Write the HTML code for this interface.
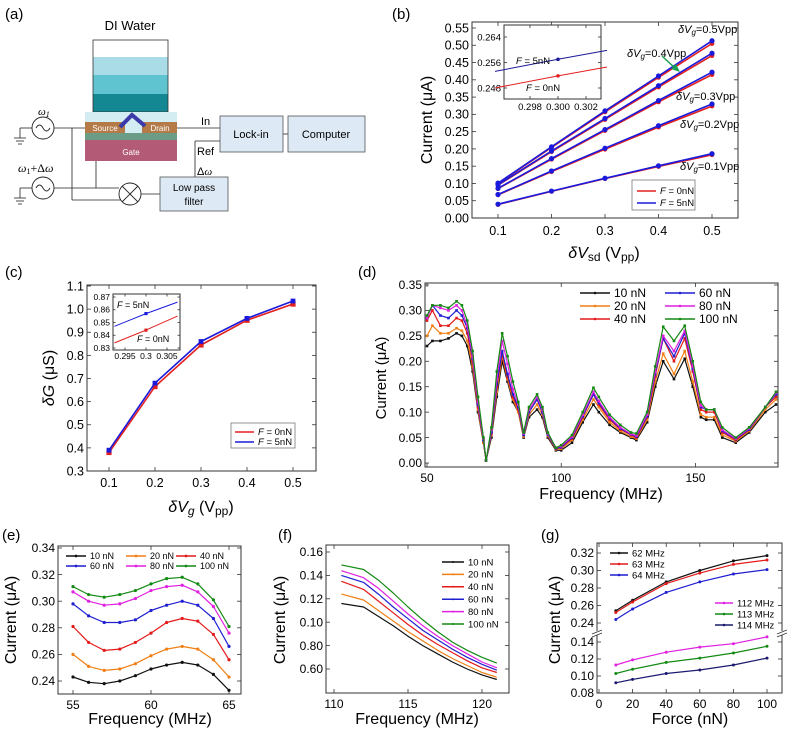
<!DOCTYPE html>
<html><head><meta charset="utf-8">
<style>
html,body{margin:0;padding:0;background:#fff;}
svg{display:block;font-family:"Liberation Sans",Arial,sans-serif;}
</style></head>
<body>
<svg id="fig" width="787" height="729" viewBox="0 0 787 729" xmlns="http://www.w3.org/2000/svg">
<g>
<text x="5" y="19" font-size="15">(a)</text>
<text x="130" y="30" font-size="13" text-anchor="middle">DI Water</text>
<g>
<rect x="93" y="40" width="75" height="17" fill="#ffffff"/>
<rect x="93" y="57" width="75" height="18" fill="#a9dce6"/>
<rect x="93" y="75" width="75" height="19" fill="#5fc3d0"/>
<rect x="93" y="94" width="75" height="18" fill="#138893"/>
<rect x="93" y="40" width="75" height="72" fill="none" stroke="#333" stroke-width="0.8"/>
</g>
<g>
<rect x="85" y="112" width="92" height="10" fill="#d4edf2"/>
<rect x="85" y="122" width="92" height="11" fill="#d4edf2"/>
<rect x="85" y="122" width="40" height="11" fill="#b47a48"/>
<rect x="142" y="122" width="35" height="11" fill="#b47a48"/>
<text x="105" y="131" font-size="8" fill="#fff" text-anchor="middle">Source</text>
<text x="160" y="131" font-size="8" fill="#fff" text-anchor="middle">Drain</text>
<rect x="85" y="133" width="92" height="7" fill="#6a9c86"/>
<rect x="85" y="140" width="92" height="21" fill="#b25a76"/>
<text x="131" y="155" font-size="8" fill="#fff" text-anchor="middle">Gate</text>
<polyline points="120,127 132,115 145,126" fill="none" stroke="#3a3aa8" stroke-width="4"/>
</g>
<g stroke="#222" stroke-width="0.8" fill="none">
<line x1="20" y1="128" x2="32" y2="128"/><line x1="20" y1="128" x2="20" y2="138"/>
<line x1="14" y1="138" x2="26" y2="138"/><line x1="16" y1="141" x2="24" y2="141"/><line x1="18" y1="144" x2="22" y2="144"/>
<line x1="54" y1="128" x2="85" y2="128"/>
<line x1="20" y1="188" x2="32" y2="188"/><line x1="20" y1="188" x2="20" y2="198"/>
<line x1="14" y1="198" x2="26" y2="198"/><line x1="16" y1="201" x2="24" y2="201"/><line x1="18" y1="204" x2="22" y2="204"/>
<line x1="54" y1="188" x2="119" y2="188"/>
<line x1="72" y1="128" x2="72" y2="200"/><line x1="72" y1="200" x2="121" y2="200"/>
<line x1="96" y1="161" x2="96" y2="188"/>
<line x1="141" y1="194" x2="160" y2="194"/>
<line x1="177" y1="128" x2="220" y2="128"/>
<line x1="195" y1="177" x2="195" y2="141"/><line x1="195" y1="141" x2="220" y2="141"/>
<line x1="283" y1="134" x2="288" y2="134"/>
</g>
<g>
<circle cx="43" cy="128" r="11" fill="#fff" stroke="#222" stroke-width="0.9"/>
<path d="M36 128 q3.5 -6 7 0 t7 0" fill="none" stroke="#222" stroke-width="0.9"/>
<text x="38" y="115" font-size="11" font-style="italic" font-family="Liberation Serif,serif">ω<tspan font-size="8" dy="2">1</tspan></text>
</g>
<g>
<circle cx="43" cy="188" r="11" fill="#fff" stroke="#222" stroke-width="0.9"/>
<path d="M36 188 q3.5 -6 7 0 t7 0" fill="none" stroke="#222" stroke-width="0.9"/>
<text x="18" y="172" font-size="12" font-family="Liberation Serif,serif"><tspan font-style="italic">ω</tspan><tspan font-size="8" dy="2">1</tspan><tspan dy="-2">+Δ</tspan><tspan font-style="italic">ω</tspan></text>
</g>
<g>
<circle cx="130" cy="194" r="11" fill="#fff" stroke="#222" stroke-width="0.9"/>
<line x1="122" y1="186" x2="138" y2="202" stroke="#222" stroke-width="0.9"/>
<line x1="138" y1="186" x2="122" y2="202" stroke="#222" stroke-width="0.9"/>
</g>
<g>
<rect x="160" y="177" width="68" height="34" fill="#dde9f5" stroke="#555" stroke-width="0.8"/>
<text x="194" y="191" font-size="10" text-anchor="middle">Low pass</text>
<text x="194" y="205" font-size="10" text-anchor="middle">filter</text>
</g>
<g>
<rect x="220" y="116" width="63" height="36" fill="#dde9f5" stroke="#555" stroke-width="0.8"/>
<text x="251" y="138" font-size="11" text-anchor="middle">Lock-in</text>
</g>
<g>
<rect x="288" y="116" width="77" height="36" fill="#dde9f5" stroke="#555" stroke-width="0.8"/>
<text x="326" y="138" font-size="11" text-anchor="middle">Computer</text>
</g>
<text x="201" y="125" font-size="11">In</text>
<text x="197" y="155" font-size="11">Ref</text>
<text x="197" y="175" font-size="11">Δ<tspan font-style="italic" font-family="Liberation Serif,serif">ω</tspan></text>
</g>
<g id="charts"></g>
</svg>
<script>
// ---------- data: panel (b) ----------
const bX = [0.1,0.2,0.3,0.4,0.5];
const bBlue01 = [0.040,0.078,0.115,0.151,0.186];
const bBlue02 = [0.068,0.136,0.202,0.267,0.330];
const bBlue03 = [0.086,0.172,0.256,0.340,0.422];
const bBlue04 = [0.096,0.194,0.288,0.383,0.477];
const bBlue05 = [0.101,0.206,0.310,0.411,0.513];
const bRed01 = [0.039,0.077,0.114,0.149,0.183];
const bRed02 = [0.067,0.134,0.199,0.263,0.324];
const bRed03 = [0.085,0.170,0.253,0.336,0.415];
const bRed04 = [0.095,0.192,0.285,0.379,0.470];
const bRed05 = [0.100,0.204,0.307,0.407,0.505];
const bYTicks = [0,0.05,0.1,0.15,0.2,0.25,0.3,0.35,0.4,0.45,0.5,0.55];
const bYLabels = ["0.00","0.05","0.10","0.15","0.20","0.25","0.30","0.35","0.40","0.45","0.50","0.55"];
const bXLabels = ["0.1","0.2","0.3","0.4","0.5"];
const bInsetX = [0.2955,0.300,0.3035];
const bInsetBlue = [0.2532,0.2570,0.2598];
const bInsetRed = [0.2480,0.2518,0.2546];
const bInsetYTicks = [0.248,0.256,0.264];
const bInsetXTicks = [0.298,0.300,0.302];
// ---------- data: panel (c) ----------
const cX = [0.1,0.2,0.3,0.4,0.5];
const cBlue = [0.39,0.68,0.86,0.96,1.035];
const cRed = [0.38,0.665,0.845,0.952,1.022];
const cYTicks = [0.3,0.4,0.5,0.6,0.7,0.8,0.9,1.0,1.1];
const cXTicks = [0.1,0.2,0.3,0.4,0.5];
const cInsetX = [0.2925,0.300,0.3075];
const cInsetBlue = [0.847,0.857,0.866];
const cInsetRed = [0.834,0.844,0.855];
const cInsetYTicks = [0.83,0.84,0.85,0.86,0.87];
const cInsetXTicks = [0.295,0.3,0.305];
// ---------- data: panel (d) ----------
const dX = [50,52,55,58,61,63,65,67,69,71,72,74,76,78,80,82,84,86,88,91,93,95,98,100,104,108,112,114,118,122,126,128,132,135,138,142,146,149,152,154,157,160,165,170,176,180];
const d10 = [0.23,0.24,0.24,0.245,0.255,0.25,0.23,0.18,0.10,0.04,0.005,0.05,0.13,0.20,0.16,0.12,0.10,0.05,0.09,0.105,0.09,0.05,0.025,0.025,0.04,0.08,0.115,0.10,0.075,0.06,0.05,0.045,0.08,0.15,0.20,0.165,0.205,0.15,0.09,0.085,0.085,0.05,0.04,0.06,0.10,0.115];
const d20 = [0.25,0.27,0.255,0.255,0.265,0.26,0.24,0.19,0.105,0.04,0.005,0.055,0.14,0.21,0.165,0.125,0.10,0.052,0.095,0.115,0.095,0.053,0.027,0.028,0.045,0.085,0.125,0.11,0.08,0.063,0.052,0.048,0.085,0.16,0.215,0.175,0.22,0.16,0.095,0.09,0.09,0.055,0.043,0.063,0.105,0.125];
const d40 = [0.28,0.30,0.27,0.27,0.285,0.28,0.255,0.20,0.11,0.045,0.005,0.058,0.15,0.215,0.17,0.13,0.105,0.055,0.10,0.125,0.10,0.055,0.028,0.03,0.048,0.09,0.135,0.115,0.085,0.066,0.055,0.05,0.09,0.17,0.245,0.20,0.245,0.18,0.105,0.10,0.10,0.06,0.045,0.065,0.11,0.13];
const d60 = [0.285,0.31,0.29,0.285,0.30,0.29,0.265,0.205,0.115,0.045,0.005,0.06,0.155,0.22,0.175,0.135,0.11,0.055,0.10,0.125,0.10,0.056,0.029,0.031,0.05,0.092,0.135,0.118,0.088,0.068,0.056,0.052,0.092,0.175,0.245,0.21,0.255,0.185,0.11,0.105,0.105,0.063,0.047,0.066,0.11,0.135];
const d80 = [0.285,0.31,0.305,0.30,0.31,0.30,0.27,0.21,0.12,0.048,0.005,0.065,0.165,0.24,0.195,0.145,0.115,0.058,0.105,0.13,0.105,0.058,0.03,0.033,0.052,0.095,0.14,0.122,0.09,0.07,0.057,0.054,0.095,0.18,0.25,0.22,0.26,0.19,0.113,0.105,0.105,0.065,0.048,0.068,0.11,0.138];
const d100 = [0.29,0.31,0.31,0.305,0.318,0.31,0.28,0.22,0.13,0.05,0.005,0.07,0.18,0.255,0.21,0.16,0.12,0.06,0.11,0.135,0.11,0.06,0.03,0.035,0.055,0.10,0.148,0.13,0.095,0.075,0.06,0.058,0.10,0.19,0.268,0.24,0.27,0.20,0.12,0.105,0.105,0.07,0.05,0.07,0.11,0.14];
const dYTicks = [0,0.05,0.1,0.15,0.2,0.25,0.3,0.35];
const dYLabels = ["0.00","0.05","0.10","0.15","0.20","0.25","0.30","0.35"];
const dXTicks = [50,100,150];
// ---------- data: panel (e) ----------
const eX = [55,56,57,58,59,60,61,62,63,64,65];
const e10 = [0.243,0.239,0.238,0.240,0.244,0.249,0.252,0.254,0.252,0.245,0.233];
const e20 = [0.260,0.251,0.248,0.249,0.253,0.259,0.264,0.266,0.264,0.256,0.243];
const e40 = [0.281,0.269,0.263,0.264,0.269,0.276,0.284,0.287,0.285,0.275,0.256];
const e60 = [0.298,0.289,0.284,0.284,0.286,0.293,0.297,0.300,0.297,0.287,0.266];
const e80 = [0.307,0.300,0.297,0.298,0.302,0.308,0.311,0.312,0.307,0.296,0.276];
const e100 = [0.311,0.305,0.303,0.305,0.308,0.313,0.317,0.318,0.313,0.301,0.281];
const eYTicks = [0.24,0.26,0.28,0.30,0.32,0.34];
const eXTicks = [55,60,65];
// ---------- data: panel (f) ----------
const fX = [110.5,112,113,114,115,116,117,118,119,120,121];
const f10 = [0.116,0.113,0.105,0.097,0.088,0.080,0.073,0.066,0.060,0.055,0.051];
const f20 = [0.124,0.119,0.110,0.101,0.092,0.084,0.076,0.069,0.063,0.057,0.053];
const f40 = [0.135,0.128,0.118,0.108,0.098,0.089,0.081,0.074,0.067,0.061,0.057];
const f60 = [0.140,0.134,0.124,0.113,0.103,0.093,0.085,0.077,0.070,0.064,0.059];
const f80 = [0.144,0.138,0.129,0.118,0.107,0.097,0.088,0.080,0.073,0.066,0.061];
const f100 = [0.149,0.145,0.136,0.125,0.113,0.102,0.092,0.083,0.076,0.070,0.065];
const fYTicks = [0.06,0.08,0.10,0.12,0.14,0.16];
const fYLabels = ["0.60","0.80","0.10","0.12","0.14","0.16"];
const fXTicks = [110,115,120];
// ---------- data: panel (g) ----------
const gX = [10,20,40,60,80,100];
const g62 = [0.254,0.266,0.287,0.300,0.311,0.317];
const g63 = [0.252,0.264,0.285,0.297,0.307,0.312];
const g64 = [0.244,0.256,0.275,0.287,0.296,0.301];
const g112 = [0.113,0.119,0.128,0.134,0.138,0.146];
const g113 = [0.103,0.108,0.116,0.121,0.127,0.135];
const g114 = [0.092,0.096,0.103,0.107,0.113,0.121];
const gUpperTicks = [0.24,0.26,0.28,0.30,0.32];
const gLowerTicks = [0.08,0.10,0.12,0.14];
const gXTicks = [0,20,40,60,80,100];

const NS = "http://www.w3.org/2000/svg";
const root = document.getElementById("charts");
function lin(d0,d1,r0,r1){return v => r0+(v-d0)/(d1-d0)*(r1-r0);}
function mk(tag, attrs, parent, name){
  const el = document.createElementNS(NS, tag);
  for (const k in attrs) el.setAttribute(k, attrs[k]);
  
  
  (parent||root).appendChild(el);
  return el;
}
function txt(x,y,s,size,parent,name,anchor,extra){
  const a = {x:x,y:y,"font-size":size,"text-anchor":anchor||"start"};
  if (extra) for (const k in extra) a[k]=extra[k];
  const el = mk("text", a, parent, name);
  el.textContent = s;
  return el;
}
function group(name){ return mk("g", {}, root, name); }
function frame(g,x0,y0,x1,y1){
  mk("rect",{x:x0,y:y0,width:x1-x0,height:y1-y0,fill:"none",stroke:"#333","stroke-width":1},g,"plot-frame");
}
function yTicks(g,ticks,labels,sy,x0,x1,size,len){
  ticks.forEach((t,i)=>{
    const y = sy(t);
    mk("line",{x1:x0,y1:y,x2:x0+len,y2:y,stroke:"#333","stroke-width":0.8},g,"y-tick");
    mk("line",{x1:x1,y1:y,x2:x1-len,y2:y,stroke:"#333","stroke-width":0.8},g,"y-tick-right");
    txt(x0-3,y+size*0.35,labels[i],size,g,"y-tick-label","end");
  });
}
function xTicks(g,ticks,labels,sx,y0,y1,size,len,off){
  ticks.forEach((t,i)=>{
    const x = sx(t);
    mk("line",{x1:x,y1:y1,x2:x,y2:y1-len,stroke:"#333","stroke-width":0.8},g,"x-tick");
    mk("line",{x1:x,y1:y0,x2:x,y2:y0+len,stroke:"#333","stroke-width":0.8},g,"x-tick-top");
    txt(x,y1+off,labels[i],size,g,"x-tick-label","middle");
  });
}
function series(g,xs,ys,sx,sy,color,name,w,mr,shape){
  const pts = xs.map((x,i)=>sx(x).toFixed(1)+","+sy(ys[i]).toFixed(1)).join(" ");
  mk("polyline",{points:pts,fill:"none",stroke:color,"stroke-width":w||1.2,"stroke-linejoin":"round"},g,name+"-line");
  if (mr) xs.forEach((x,i)=>{
    if (shape==="sq") mk("rect",{x:sx(x)-mr,y:sy(ys[i])-mr,width:2*mr,height:2*mr,fill:color},g,name+"-point");
    else mk("circle",{cx:sx(x),cy:sy(ys[i]),r:mr,fill:color},g,name+"-point");
  });
}
function legLine(g,x,y,len,color,label,size,name,mr){
  mk("line",{x1:x,y1:y,x2:x+len,y2:y,stroke:color,"stroke-width":1.5},g,name+"-swatch");
  if (mr) mk("circle",{cx:x+len/2,cy:y,r:mr,fill:color},g,name+"-marker");
  return txt(x+len+4,y+size*0.35,label,size,g,name+"-label");
}
const fmt = (v,d)=>v.toFixed(d);

// ===== Panel (b) =====
(function(){
  const g = group("panel-b-chart");
  txt(392,19,"(b)",15,g,"panel-b-label");
  const sx = lin(0.1,0.5,498,712), sy = lin(0,0.55,218,28);
  frame(g,472,22,738,218);
  yTicks(g,bYTicks,bYLabels,sy,472,738,12.5,4);
  xTicks(g,bX,bXLabels,sx,22,218,12.5,4,17);
  txt(0,0,"Current (μA)",16,g,"y-axis-title","middle",{transform:"translate(432,120) rotate(-90)"});
  const xl = mk("text",{x:604,y:258,"font-size":16,"text-anchor":"middle"},g,"x-axis-title");
  xl.innerHTML = '<tspan font-style="italic">δV</tspan><tspan font-size="12" dy="3">sd</tspan><tspan dy="-3"> (V</tspan><tspan font-size="12" dy="3">pp</tspan><tspan dy="-3">)</tspan>';
  const reds=[bRed01,bRed02,bRed03,bRed04,bRed05], blues=[bBlue01,bBlue02,bBlue03,bBlue04,bBlue05];
  reds.forEach((r,i)=>series(g,bX,r,sx,sy,"#e32020","red-0nN-vg"+(i+1),1.6,2.4));
  blues.forEach((b,i)=>series(g,bX,b,sx,sy,"#1a1adc","blue-5nN-vg"+(i+1),1.6,2.6));
  const ann=[["0.5",678,33],["0.4",627,57],["0.3",676,100],["0.2",680,128],["0.1",680,170]];
  ann.forEach(a=>{
    const t = mk("text",{x:a[1],y:a[2],"font-size":11,"text-anchor":"start"},g,"vg-annotation");
    t.innerHTML='<tspan font-style="italic">δV</tspan><tspan font-style="italic" font-size="8" dy="2">g</tspan><tspan dy="-2">='+a[0]+'Vpp</tspan>';
  });
  mk("line",{x1:662,y1:56,x2:676,y2:69,stroke:"#1aa050","stroke-width":1.5},g,"annotation-arrow");
  mk("polygon",{points:"680,72 671,69 676,64",fill:"#1aa050"},g,"annotation-arrowhead");
  mk("rect",{x:632,y:180,width:63,height:30,fill:"#fff",stroke:"#666","stroke-width":0.7},g,"legend-box");
  let t = mk("text",{x:660,y:194,"font-size":9.5},g,"legend-label-0nN"); t.innerHTML='<tspan font-style="italic">F</tspan> = 0nN';
  mk("line",{x1:637,y1:191,x2:656,y2:191,stroke:"#e32020","stroke-width":1.5},g,"legend-swatch-0nN");
  t = mk("text",{x:660,y:206,"font-size":9.5},g,"legend-label-5nN"); t.innerHTML='<tspan font-style="italic">F</tspan> = 5nN';
  mk("line",{x1:637,y1:203,x2:656,y2:203,stroke:"#1a1adc","stroke-width":1.5},g,"legend-swatch-5nN");
  const ix = lin(0.298,0.302,530,586), iy = lin(0.248,0.264,88,37);
  mk("rect",{x:504,y:25,width:97,height:74,fill:"#fff"},g,"inset-bg");
  frame(g,504,25,601,99);
  yTicks(g,bInsetYTicks,bInsetYTicks.map(v=>fmt(v,3)),iy,504,601,9.5,3);
  xTicks(g,bInsetXTicks,bInsetXTicks.map(v=>fmt(v,3)),ix,25,99,9.5,3,11);
  series(g,bInsetX,bInsetBlue,ix,iy,"#1a1a9a","inset-blue",1,0);
  series(g,bInsetX,bInsetRed,ix,iy,"#e32020","inset-red",1,0);
  mk("circle",{cx:ix(0.3),cy:iy(bInsetBlue[1]),r:1.8,fill:"#1a1a9a"},g,"inset-blue-point");
  mk("circle",{cx:ix(0.3),cy:iy(bInsetRed[1]),r:1.8,fill:"#e32020"},g,"inset-red-point");
  t = mk("text",{x:516,y:64,"font-size":9.5},g,"inset-label-5nN"); t.innerHTML='<tspan font-style="italic">F</tspan> = 5nN';
  t = mk("text",{x:526,y:91,"font-size":9.5},g,"inset-label-0nN"); t.innerHTML='<tspan font-style="italic">F</tspan> = 0nN';
})();

// ===== Panel (c) =====
(function(){
  const g = group("panel-c-chart");
  txt(5,277,"(c)",15,g,"panel-c-label");
  const sx = lin(0.1,0.5,109,293), sy = lin(0.3,1.1,471,286);
  frame(g,87,285,316,471);
  yTicks(g,cYTicks,cYTicks.map(v=>fmt(v,1)),sy,87,316,12.5,4);
  xTicks(g,cXTicks,cXTicks.map(v=>fmt(v,1)),sx,285,471,12.5,4,16);
  const yl = mk("text",{"font-size":16,"text-anchor":"middle",transform:"translate(54,378) rotate(-90)"},g,"y-axis-title");
  yl.innerHTML='<tspan font-style="italic">δG</tspan> (μS)';
  const xl = mk("text",{x:201,y:512,"font-size":16,"text-anchor":"middle"},g,"x-axis-title");
  xl.innerHTML='<tspan font-style="italic">δV</tspan><tspan font-style="italic" font-size="12" dy="3">g</tspan><tspan dy="-3"> (V</tspan><tspan font-size="12" dy="3">pp</tspan><tspan dy="-3">)</tspan>';
  series(g,cX,cRed,sx,sy,"#e32020","c-red-0nN",1.6,2.6,"sq");
  series(g,cX,cBlue,sx,sy,"#1a1adc","c-blue-5nN",1.6,2.4,"sq");
  mk("rect",{x:231,y:423,width:64,height:25,fill:"#fff",stroke:"#666","stroke-width":0.7},g,"legend-box");
  mk("line",{x1:235,y1:432,x2:254,y2:432,stroke:"#e32020","stroke-width":1.5},g,"legend-swatch-0nN");
  let t = mk("text",{x:258,y:435,"font-size":9.5},g,"legend-label-0nN"); t.innerHTML='<tspan font-style="italic">F</tspan> = 0nN';
  mk("line",{x1:235,y1:442,x2:254,y2:442,stroke:"#1a1adc","stroke-width":1.5},g,"legend-swatch-5nN");
  t = mk("text",{x:258,y:445,"font-size":9.5},g,"legend-label-5nN"); t.innerHTML='<tspan font-style="italic">F</tspan> = 5nN';
  const ix = lin(0.295,0.305,125,167), iy = lin(0.83,0.87,348,297);
  mk("rect",{x:113,y:294,width:67,height:56,fill:"#fff"},g,"inset-bg");
  frame(g,113,294,180,350);
  yTicks(g,cInsetYTicks,cInsetYTicks.map(v=>fmt(v,2)),iy,113,180,8.5,2.5);
  xTicks(g,cInsetXTicks,["0.295","0.3","0.305"],ix,294,350,8.5,2.5,9);
  series(g,cInsetX,cInsetBlue,ix,iy,"#1a1adc","inset-blue",1,0);
  series(g,cInsetX,cInsetRed,ix,iy,"#e32020","inset-red",1,0);
  mk("rect",{x:ix(0.3)-1.6,y:iy(cInsetBlue[1])-1.6,width:3.2,height:3.2,fill:"#1a1adc"},g,"inset-blue-point");
  mk("rect",{x:ix(0.3)-1.6,y:iy(cInsetRed[1])-1.6,width:3.2,height:3.2,fill:"#e32020"},g,"inset-red-point");
  t = mk("text",{x:117,y:308,"font-size":9},g,"inset-label-5nN"); t.innerHTML='<tspan font-style="italic">F</tspan> = 5nN';
  t = mk("text",{x:137,y:342,"font-size":9},g,"inset-label-0nN"); t.innerHTML='<tspan font-style="italic">F</tspan> = 0nN';
})();

// ===== Panel (d) =====
(function(){
  const g = group("panel-d-chart");
  txt(358,277,"(d)",15,g,"panel-d-label");
  const sx = lin(50,180,427,776), sy = lin(0,0.35,463,285);
  frame(g,425,283,778,467);
  yTicks(g,dYTicks,dYLabels,sy,425,778,12,4);
  xTicks(g,dXTicks,dXTicks.map(String),sx,283,467,12,4,15);
  txt(0,0,"Current (μA)",15,g,"y-axis-title","middle",{transform:"translate(386,378) rotate(-90)"});
  txt(601,499,"Frequency (MHz)",16,g,"x-axis-title","middle");
  const S=[[d10,"#111","10 nN"],[d20,"#f07f14","20 nN"],[d40,"#e41a1a","40 nN"],[d60,"#1f1fd0","60 nN"],[d80,"#e020e0","80 nN"],[d100,"#138a13","100 nN"]];
  S.forEach(s=>series(g,dX,s[0],sx,sy,s[1],"d-"+s[2].replace(" ",""),1.2,1.3,"sq"));
  const pos=[[580,293],[580,306],[580,319],[665,293],[665,306],[665,319]];
  S.forEach((s,i)=>legLine(g,pos[i][0],pos[i][1],30,s[1],s[2],12,"legend-d-"+s[2].replace(" ",""),1.3));
})();

// ===== Panel (e) =====
(function(){
  const g = group("panel-e-chart");
  txt(2,540,"(e)",15,g,"panel-e-label");
  const sx = lin(55,65,73,229), sy = lin(0.24,0.34,681,548);
  frame(g,58,546,241,694);
  yTicks(g,eYTicks,eYTicks.map(v=>fmt(v,2)),sy,58,241,12,4);
  xTicks(g,eXTicks,eXTicks.map(String),sx,546,694,12,4,15);
  txt(0,0,"Current (μA)",16,g,"y-axis-title","middle",{transform:"translate(16,620) rotate(-90)"});
  txt(150,724,"Frequency (MHz)",16,g,"x-axis-title","middle");
  const S=[[e10,"#111","10 nN"],[e20,"#f07f14","20 nN"],[e40,"#e41a1a","40 nN"],[e60,"#1f1fd0","60 nN"],[e80,"#e020e0","80 nN"],[e100,"#138a13","100 nN"]];
  S.forEach(s=>series(g,eX,s[0],sx,sy,s[1],"e-"+s[2].replace(" ",""),1.2,1.6));
  const pos=[[66,556],[126,556],[176,556],[66,566],[126,566],[176,566]];
  S.forEach((s,i)=>legLine(g,pos[i][0],pos[i][1],20,s[1],s[2],9,"legend-e-"+s[2].replace(" ",""),1.4));
})();

// ===== Panel (f) =====
(function(){
  const g = group("panel-f-chart");
  txt(278,540,"(f)",15,g,"panel-f-label");
  const sx = lin(110,120,334,482), sy = lin(0.06,0.16,669,552);
  frame(g,326,545,509,693);
  yTicks(g,fYTicks,fYLabels,sy,326,509,12,4);
  xTicks(g,fXTicks,fXTicks.map(String),sx,545,693,12,4,15);
  txt(0,0,"Current (μA)",16,g,"y-axis-title","middle",{transform:"translate(285,620) rotate(-90)"});
  txt(417,724,"Frequency (MHz)",16,g,"x-axis-title","middle");
  const S=[[f10,"#111","10 nN"],[f20,"#f07f14","20 nN"],[f40,"#e41a1a","40 nN"],[f60,"#1f1fd0","60 nN"],[f80,"#e020e0","80 nN"],[f100,"#138a13","100 nN"]];
  S.forEach(s=>series(g,fX,s[0],sx,sy,s[1],"f-"+s[2].replace(" ",""),1.2,0));
  S.forEach((s,i)=>legLine(g,442,562+i*12.4,22,s[1],s[2],9.5,"legend-f-"+s[2].replace(" ",""),1));
})();

// ===== Panel (g) =====
(function(){
  const g = group("panel-g-chart");
  txt(541,540,"(g)",15,g,"panel-g-label");
  const sx = lin(0,100,599,767), syU = lin(0.24,0.32,623,553), syL = lin(0.08,0.14,693,642);
  frame(g,597,543,782,693);
  yTicks(g,gUpperTicks,gUpperTicks.map(v=>fmt(v,2)),syU,597,782,12,4);
  yTicks(g,gLowerTicks,gLowerTicks.map(v=>fmt(v,2)),syL,597,782,12,4);
  xTicks(g,gXTicks,gXTicks.map(String),sx,543,693,12,4,15);
  mk("rect",{x:592,y:631,width:10,height:4,fill:"#fff"},g,"axis-break-left-gap");
  mk("line",{x1:592,y1:634,x2:602,y2:630,stroke:"#333","stroke-width":0.8},g,"axis-break-left");
  mk("line",{x1:592,y1:637,x2:602,y2:633,stroke:"#333","stroke-width":0.8},g,"axis-break-left-2");
  mk("rect",{x:777,y:631,width:10,height:4,fill:"#fff"},g,"axis-break-right-gap");
  mk("line",{x1:777,y1:634,x2:787,y2:630,stroke:"#333","stroke-width":0.8},g,"axis-break-right");
  mk("line",{x1:777,y1:637,x2:787,y2:633,stroke:"#333","stroke-width":0.8},g,"axis-break-right-2");
  txt(0,0,"Current (μA)",16,g,"y-axis-title","middle",{transform:"translate(560,620) rotate(-90)"});
  txt(690,724,"Force (nN)",16,g,"x-axis-title","middle");
  const U=[[g62,"#111","62 MHz"],[g63,"#e41a1a","63 MHz"],[g64,"#1f1fd0","64 MHz"]];
  const L=[[g112,"#e020e0","112 MHz"],[g113,"#138a13","113 MHz"],[g114,"#1a1a6e","114 MHz"]];
  U.forEach(s=>series(g,gX,s[0],sx,syU,s[1],"g-"+s[2].replace(" ",""),1.2,1.5));
  L.forEach(s=>series(g,gX,s[0],sx,syL,s[1],"g-"+s[2].replace(" ",""),1.2,1.5));
  U.forEach((s,i)=>legLine(g,610,553+i*11,18,s[1],s[2],9.5,"legend-g-"+s[2].replace(" ",""),1.3));
  L.forEach((s,i)=>legLine(g,715,603+i*11,18,s[1],s[2],9.5,"legend-g-"+s[2].replace(" ",""),1.3));
})();
</script>
</body></html>
